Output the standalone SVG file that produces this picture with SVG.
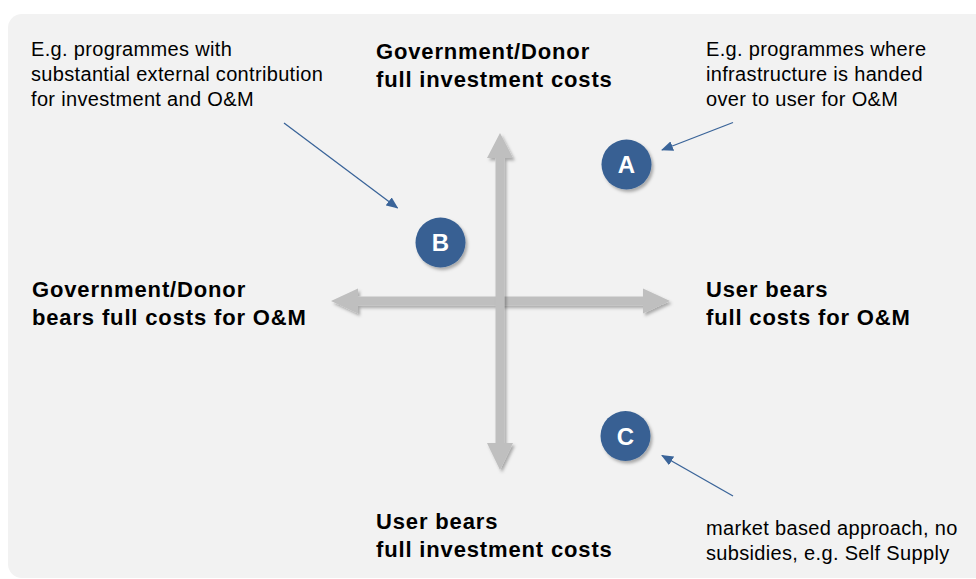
<svg xmlns="http://www.w3.org/2000/svg" width="976" height="579" viewBox="0 0 976 579">
<defs>
<style>
.reg{font-family:"Liberation Sans",Arial,sans-serif;font-size:20px;letter-spacing:0.33px;fill:#000}
.bold{font-family:"Liberation Sans",Arial,sans-serif;font-size:22px;font-weight:bold;letter-spacing:0.85px;fill:#000}
.circ{fill:#376093;filter:url(#sh)}
.letter{font-family:"Liberation Sans",Arial,sans-serif;font-size:24px;font-weight:bold;fill:#fff;text-anchor:middle}
.axis{fill:#BFBFBF;filter:url(#sh)}
.conn{stroke:#3A6499;stroke-width:1.3;fill:none;marker-end:url(#ah)}
</style>
<filter id="sh" x="-20%" y="-20%" width="140%" height="140%">
<feDropShadow dx="2" dy="2.5" stdDeviation="1.5" flood-color="#000" flood-opacity="0.3"/>
</filter>
<marker id="ah" markerUnits="userSpaceOnUse" markerWidth="12" markerHeight="10" viewBox="0 0 12 10" refX="11" refY="5" orient="auto">
<path d="M0,0 L12,5 L0,10 Z" fill="#3A6499"/>
</marker>
</defs>
<rect x="0" y="0" width="976" height="579" fill="#fff"/>
<rect x="8" y="14" width="1000" height="564" rx="14" fill="#F2F2F2"/>
<g id="axes">
<polygon class="axis" points="331,301 358,288.5 358,296.5 643,296.5 643,288.5 670,301 643,313.5 643,305.5 358,305.5 358,313.5"/>
<polygon class="axis" points="500,133 513,158 504.5,158 504.5,443 513,443 500,470 487,443 495.5,443 495.5,158 487,158"/>
</g>
<g id="connectors">
<line class="conn" x1="284" y1="123" x2="397.5" y2="208"/>
<line class="conn" x1="733" y1="122.5" x2="662" y2="150"/>
<line class="conn" x1="733" y1="496" x2="662" y2="455.5"/>
</g>
<g id="node-A"><circle class="circ" cx="626.5" cy="164.5" r="25"/><text class="letter" x="626.5" y="173">A</text></g>
<g id="node-B"><circle class="circ" cx="440.5" cy="242.5" r="25"/><text class="letter" x="440.5" y="251">B</text></g>
<g id="node-C"><circle class="circ" cx="625.5" cy="436" r="25"/><text class="letter" x="625.5" y="444.5">C</text></g>
<g id="label-top"><text class="bold" x="376" y="58.5">Government/Donor</text><text class="bold" x="376" y="86.5">full investment costs</text></g>
<g id="label-left"><text class="bold" x="32" y="297">Government/Donor</text><text class="bold" x="32" y="325">bears full costs for O&amp;M</text></g>
<g id="label-right"><text class="bold" x="706" y="297">User bears</text><text class="bold" x="706" y="325">full costs for O&amp;M</text></g>
<g id="label-bottom"><text class="bold" x="376" y="529">User bears</text><text class="bold" x="376" y="557">full investment costs</text></g>
<g id="note-B"><text class="reg" x="31" y="56">E.g. programmes with</text><text class="reg" x="31" y="81">substantial external contribution</text><text class="reg" x="31" y="105.5">for investment and O&amp;M</text></g>
<g id="note-A"><text class="reg" x="706" y="56">E.g. programmes where</text><text class="reg" x="706" y="81">infrastructure is handed</text><text class="reg" x="706" y="105.5">over to user for O&amp;M</text></g>
<g id="note-C"><text class="reg" x="706" y="535">market based approach, no</text><text class="reg" x="706" y="560">subsidies, e.g. Self Supply</text></g>
</svg>
